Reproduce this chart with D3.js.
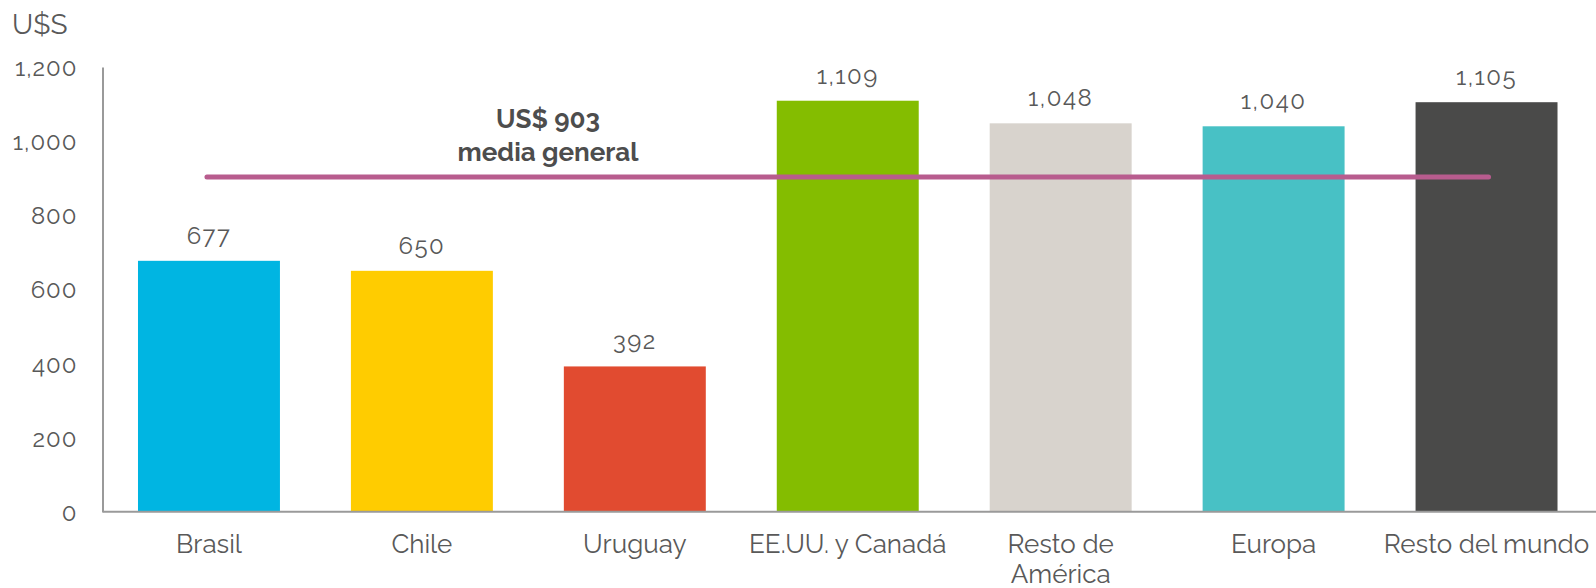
<!DOCTYPE html>
<html>
<head>
<meta charset="utf-8">
<script src="https://cdn.jsdelivr.net/npm/d3@7"></script>
<style>
  html, body { margin: 0; padding: 0; background: #fff; }
  svg { display: block; }
  text { font-family: Raleway, Lato, "Open Sans", sans-serif; fill: #595959; }
</style>
</head>
<body>
<svg id="chart" width="1596" height="588"></svg>
<script>
const categories = ["Brasil", "Chile", "Uruguay", "EE.UU. y Canadá", "Resto de América", "Europa", "Resto del mundo"];
const values = [677, 650, 392, 1109, 1048, 1040, 1105];
const colors = ["#00B5E2", "#FFCC00", "#E14B30", "#84BD00", "#D8D3CD", "#48C1C5", "#4A4A49"];
const yTicks = [0, 200, 400, 600, 800, 1000, 1200];
const meanValue = 903;
const meanLabel = ["US$ 903", "media general"];
const unitLabel = "U$S";
const labelLines = {"Resto de América": ["Resto de", "América"]};

const svg = d3.select("#chart");
const x0 = 102.5, x1 = 1593, yBottom = 511.7, yTop = 67;

const x = d3.scaleBand().domain(categories).range([x0, x1]).paddingInner(1/3).paddingOuter(1/6);
const y = d3.scaleLinear().domain([0, 1200]).range([yBottom, yTop]);

// bars
svg.selectAll("rect.bar").data(categories).join("rect")
  .attr("class", "bar")
  .attr("x", d => x(d))
  .attr("width", x.bandwidth())
  .attr("y", (d, i) => y(values[i]))
  .attr("height", (d, i) => y(0) - y(values[i]))
  .attr("fill", (d, i) => colors[i]);

// y axis
const yAxis = d3.axisLeft(y).tickValues(yTicks).tickSize(0).tickPadding(25)
  .tickFormat(d3.format(","));
const gy = svg.append("g").attr("transform", `translate(${x0},0)`).call(yAxis);
gy.select(".domain").attr("stroke", "#9a9a9a").attr("stroke-width", 2);
gy.selectAll("text").style("font-size", "24px").style("letter-spacing", "1px")
  .style("font-family", "Raleway, Lato, sans-serif").attr("fill", "#595959").attr("dy", "0.36em");

// x axis line
svg.append("line").attr("x1", x0).attr("x2", 1596).attr("y1", yBottom).attr("y2", yBottom)
  .attr("stroke", "#9a9a9a").attr("stroke-width", 2);

// x labels
const xl = svg.append("g");
categories.forEach(c => {
  const lines = labelLines[c] || [c];
  const t = xl.append("text").attr("x", x(c) + x.bandwidth() / 2).attr("y", 553)
    .attr("text-anchor", "middle").style("font-size", "26px");
  lines.forEach((l, i) => t.append("tspan").attr("x", x(c) + x.bandwidth() / 2).attr("dy", i ? 30 : 0).text(l));
});

// value labels
svg.selectAll("text.val").data(categories).join("text")
  .attr("class", "val")
  .attr("x", d => x(d) + x.bandwidth() / 2)
  .attr("y", (d, i) => y(values[i]) - 17)
  .attr("text-anchor", "middle")
  .style("font-size", "24px")
  .style("letter-spacing", "1.5px")
  .text((d, i) => d3.format(",")(values[i]));

// mean line
svg.append("line")
  .attr("x1", x(categories[0]) + x.bandwidth() / 2 - 2)
  .attr("x2", x(categories[categories.length - 1]) + x.bandwidth() / 2 + 2)
  .attr("y1", y(meanValue)).attr("y2", y(meanValue))
  .attr("stroke", "#B85C8E").attr("stroke-width", 5).attr("stroke-linecap", "round");

// mean label
const ml = svg.append("text").attr("x", 548).attr("y", 128).attr("text-anchor", "middle")
  .style("font-size", "26px").style("font-weight", "bold").attr("fill", "#4d4d4d");
meanLabel.forEach((l, i) => ml.append("tspan").attr("x", 548).attr("dy", i ? 33 : 0).text(l).attr("fill", "#4d4d4d"));

// unit
svg.append("text").attr("x", 12).attr("y", 34).style("font-size", "28px").text(unitLabel);
</script>
</body>
</html>
